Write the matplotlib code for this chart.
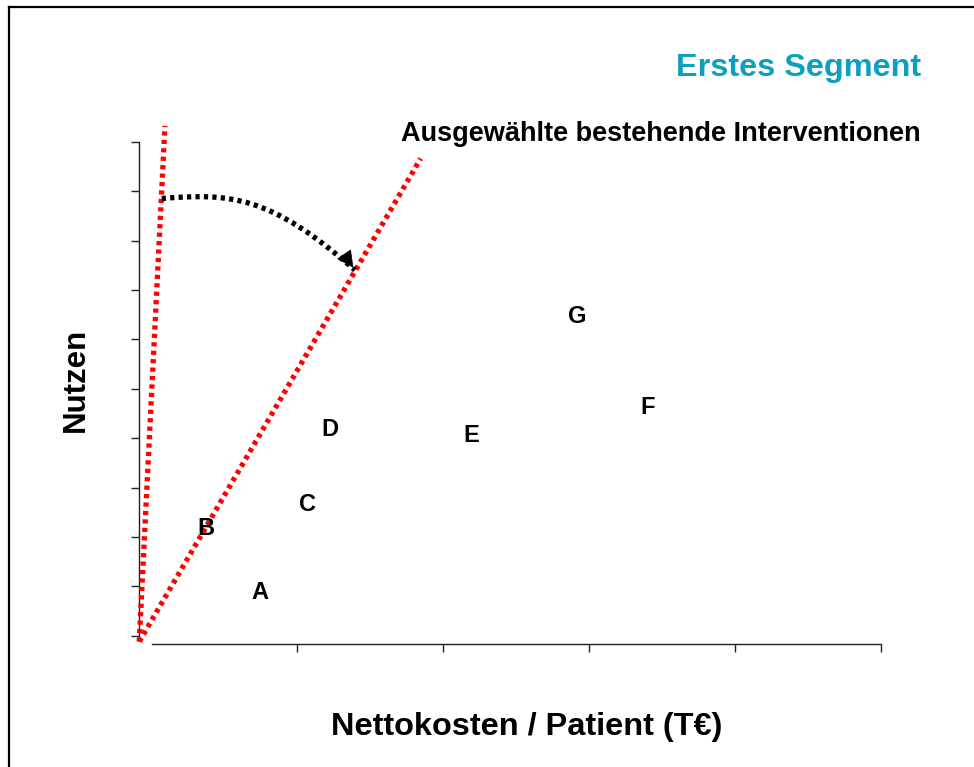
import matplotlib.pyplot as plt
from matplotlib.path import Path
from matplotlib.patches import PathPatch
from matplotlib.lines import Line2D

plt.rcParams['font.family'] = ['Liberation Sans', 'DejaVu Sans']

# interventions (cost per patient, benefit)
labels = ["A", "B", "C", "D", "E", "F", "G"]
cost = [0.74, 0.37, 1.07, 1.22, 2.19, 3.40, 2.92]
benefit = [0.88, 2.18, 2.65, 4.18, 4.06, 4.61, 6.47]

# threshold lines from the origin
origin = (-0.084, -0.12)
steep_end = (0.092, 10.32)
flat_end = (1.844, 9.66)

# curved arrow (cubic bezier control points)
arrow_x = [0.070, 0.538, 0.812, 1.394]
arrow_y = [8.85, 8.96, 8.92, 7.40]

W, H = 974, 767
fig = plt.figure(figsize=(W / 100, H / 100), dpi=100)
# axes box in pixels: left 139.3, right 881.3, top 141.7, bottom 644.3
ax = fig.add_axes([139.3 / W, 1 - 644.3 / H, (881.3 - 139.3) / W, (644.3 - 141.7) / H])
ax.set_xlim(-0.0836, 5)
ax.set_ylim(-0.174, 10)

for s in ["top", "right"]:
    ax.spines[s].set_visible(False)
ax.spines["bottom"].set_bounds(0, 5)
ax.spines["left"].set_bounds(0, 10)
for s in ["bottom", "left"]:
    ax.spines[s].set_color("#222222")
    ax.spines[s].set_linewidth(1.0)
ax.set_xticks([1, 2, 3, 4, 5])
ax.set_yticks(range(11))
ax.set_xticklabels([])
ax.set_yticklabels([])
ax.tick_params(length=6, width=1.0, color="#222222")

dots = (0, (0.8, 0.8))
for end in (steep_end, flat_end):
    ax.plot([origin[0], end[0]], [origin[1], end[1]], color="#ff0000", lw=3.8,
            linestyle=dots, dash_capstyle="butt", clip_on=False, zorder=3)

path = Path(list(zip(arrow_x, arrow_y)),
            [Path.MOVETO, Path.CURVE4, Path.CURVE4, Path.CURVE4])
ax.add_patch(PathPatch(path, fill=False, edgecolor="black", lw=3.8,
                       linestyle=dots, capstyle="butt", zorder=4))
ax.annotate("", xy=(arrow_x[3], arrow_y[3]),
            xytext=(arrow_x[3] - 0.07, arrow_y[3] + 0.3),
            arrowprops=dict(arrowstyle="-|>", color="black", lw=0.5,
                            mutation_scale=28), zorder=5)

for lab, x, y in zip(labels, cost, benefit):
    ax.text(x, y, lab, fontsize=17, fontweight="bold", ha="center", va="center", zorder=6)

fig.text(921 / W, 1 - 68 / H, "Erstes Segment", color="#0c9fc0", fontsize=23.3,
         fontweight="bold", ha="right", va="center")
fig.text(921 / W, 1 - 134 / H, "Ausgewählte bestehende Interventionen", fontsize=19.5,
         fontweight="bold", ha="right", va="center")
fig.text(527 / W, 1 - 727 / H, "Nettokosten / Patient (T€)", fontsize=23.4,
         fontweight="bold", ha="center", va="center")
fig.text(76 / W, 1 - 380 / H, "Nutzen", fontsize=22.5, fontweight="bold",
         rotation=90, ha="center", va="center")

# slide frame
fig.add_artist(Line2D([9 / W, 9 / W], [0, 1 - 7 / H], color="black", lw=1.6))
fig.add_artist(Line2D([9 / W, 1], [1 - 7 / H, 1 - 7 / H], color="black", lw=1.6))

fig.savefig("out.png", dpi=100)
